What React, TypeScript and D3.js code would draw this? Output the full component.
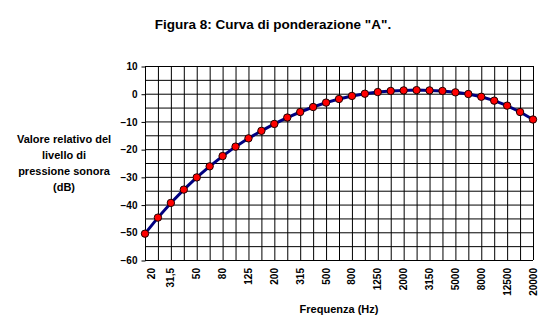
import React, { useRef, useEffect } from "react";
import * as d3 from "d3";

// 1/3 octave bands (Hz) and A-weighting in dB
const frequencies = [
  "20", "25", "31,5", "40", "50", "63", "80", "100", "125", "160", "200",
  "250", "315", "400", "500", "630", "800", "1000", "1250", "1600", "2000",
  "2500", "3150", "4000", "5000", "6300", "8000", "10000", "12500", "16000", "20000",
];
const weighting = [
  -50.5, -44.7, -39.4, -34.6, -30.2, -26.2, -22.5, -19.1, -16.1, -13.4, -10.9,
  -8.6, -6.6, -4.8, -3.2, -1.9, -0.8, 0, 0.6, 1.0, 1.2,
  1.3, 1.2, 1.0, 0.5, -0.1, -1.1, -2.5, -4.3, -6.6, -9.3,
];
const yTicks = [10, 0, -10, -20, -30, -40, -50, -60];
const yGrid = [10, 5, 0, -5, -10, -15, -20, -25, -30, -35, -40, -45, -50, -55, -60];
const yTitle = ["Valore relativo del", "livello di", "pressione sonora", "(dB)"];

const FONT = "'Liberation Sans', Arial, sans-serif";

function App() {
  const svgRef = useRef<SVGSVGElement>(null);

  useEffect(() => {
    const w = 548;
    const h = 335;
    const left = 145;
    const right = 533;
    const top = 66;
    const bottom = 260;

    const svg = d3.select(svgRef.current).attr("width", w).attr("height", h);
    svg.selectAll("*").remove();

    const x = d3.scalePoint<string>().domain(frequencies).range([left, right]);
    const y = d3.scaleLinear().domain([-60, 10]).range([bottom, top]);

    svg.append("rect").attr("width", w).attr("height", h).attr("fill", "#fff");

    // grid
    svg
      .append("g")
      .selectAll("line")
      .data(yGrid)
      .join("line")
      .attr("x1", left)
      .attr("x2", right)
      .attr("y1", (d) => y(d) + 0.5)
      .attr("y2", (d) => y(d) + 0.5)
      .attr("stroke", "#000");
    svg
      .append("g")
      .selectAll("line")
      .data(frequencies)
      .join("line")
      .attr("x1", (d) => x(d)! + 0.5)
      .attr("x2", (d) => x(d)! + 0.5)
      .attr("y1", top)
      .attr("y2", bottom)
      .attr("stroke", "#000");

    // y axis
    const yAxis = d3.axisLeft(y).tickValues(yTicks).tickSize(4).tickPadding(4);
    const gy = svg
      .append("g")
      .attr("transform", `translate(${left + 0.5},0.5)`)
      .call(yAxis);
    gy.select(".domain").remove();
    gy.selectAll("line").attr("stroke", "#000");
    gy.selectAll("text")
      .attr("font-family", FONT)
      .attr("font-weight", "bold")
      .attr("font-size", 10)
      .attr("fill", "#000");

    // x labels, every other category
    svg
      .append("g")
      .selectAll("text")
      .data(frequencies.filter((_, i) => i % 2 === 0))
      .join("text")
      .attr("transform", (d, i) => {
        const px = x(d)! + (i === 0 ? 6 : 0);
        return `translate(${px},268) rotate(-90)`;
      })
      .attr("text-anchor", "end")
      .attr("dy", "0.35em")
      .attr("font-family", FONT)
      .attr("font-weight", "bold")
      .attr("font-size", 10)
      .text((d) => d);

    // line
    const line = d3
      .line<number>()
      .x((_, i) => x(frequencies[i])!)
      .y((d) => y(d));
    svg
      .append("path")
      .datum(weighting)
      .attr("fill", "none")
      .attr("stroke", "#000080")
      .attr("stroke-width", 3)
      .attr("d", line);

    svg
      .append("g")
      .selectAll("circle")
      .data(weighting)
      .join("circle")
      .attr("cx", (_, i) => x(frequencies[i])!)
      .attr("cy", (d) => y(d))
      .attr("r", 3.7)
      .attr("fill", "#ff0000")
      .attr("stroke", "#200000")
      .attr("stroke-width", 1);

    // titles
    svg
      .append("text")
      .attr("x", 273)
      .attr("y", 29)
      .attr("text-anchor", "middle")
      .attr("font-family", FONT)
      .attr("font-weight", "bold")
      .attr("font-size", 13.5)
      .text('Figura 8: Curva di ponderazione "A".');

    svg
      .append("text")
      .attr("x", 64)
      .attr("y", 143)
      .attr("text-anchor", "middle")
      .attr("font-family", FONT)
      .attr("font-weight", "bold")
      .attr("font-size", 11)
      .selectAll("tspan")
      .data(yTitle)
      .join("tspan")
      .attr("x", 64)
      .attr("dy", (_, i) => (i === 0 ? 0 : 16))
      .text((d) => d);

    svg
      .append("text")
      .attr("x", 339)
      .attr("y", 313)
      .attr("text-anchor", "middle")
      .attr("font-family", FONT)
      .attr("font-weight", "bold")
      .attr("font-size", 11)
      .text("Frequenza (Hz)");
  }, []);

  return (
    <div style={{ position: "absolute", top: 0, left: 0 }}>
      <svg ref={svgRef} style={{ display: "block" }}></svg>
    </div>
  );
}

export default App;
